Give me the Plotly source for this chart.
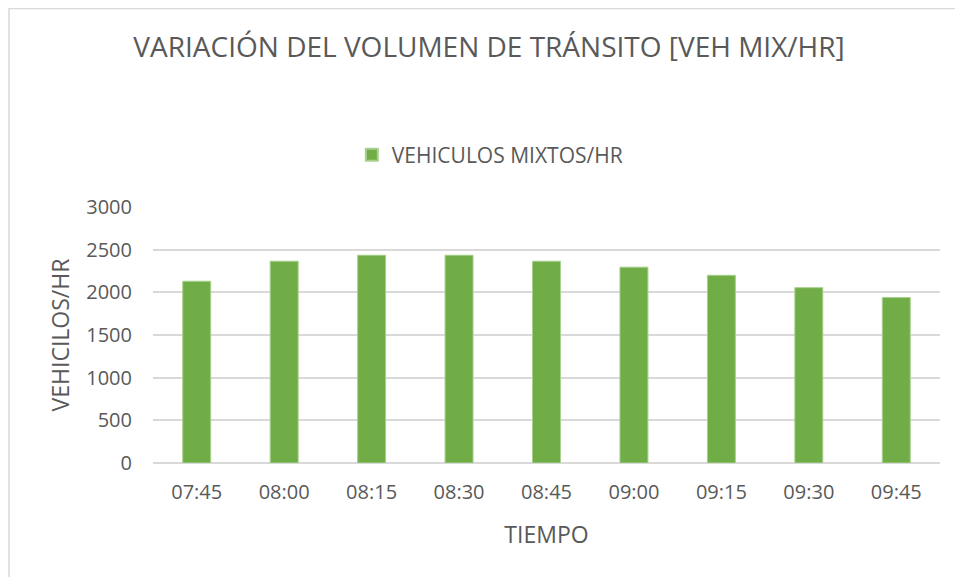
import plotly.graph_objects as go

# datos
horas = ["07:45", "08:00", "08:15", "08:30", "08:45", "09:00", "09:15", "09:30", "09:45"]
vehiculos = [2130, 2365, 2435, 2435, 2365, 2295, 2200, 2055, 1940]
nombre_serie = "VEHICULOS MIXTOS/HR"

gris = "#595959"
fuente = "Open Sans"

fig = go.Figure()

fig.add_trace(go.Bar(
    x=horas, y=vehiculos, name=nombre_serie,
    marker=dict(color="#70AD47", line=dict(color="#A9D18E", width=1)),
    showlegend=True,
))

# el body de la pagina tiene 8px de margen, se compensa en los margenes
fig.update_layout(
    width=963, height=577,
    margin=dict(l=145, r=31, t=199, b=122, autoexpand=False),
    paper_bgcolor="white", plot_bgcolor="white",
    font=dict(family=fuente, color=gris, size=20),
    title=dict(text="VARIACIÓN DEL VOLUMEN DE TRÁNSITO [VEH MIX/HR]",
               x=0.4995, xanchor="center", y=0.932, yanchor="middle",
               font=dict(size=28, color=gris, family=fuente)),
    legend=dict(orientation="h", x=0.428, xanchor="center", y=1.203, yanchor="middle",
                font=dict(size=21, color=gris), itemsizing="constant"),
    bargap=0.68,
    xaxis=dict(title=dict(text="TIEMPO", font=dict(size=23, color=gris), standoff=22),
               showgrid=False, showline=False, ticks="", tickfont=dict(size=20),
               ticklabelstandoff=15),
    yaxis=dict(title=dict(text="VEHICILOS/HR", font=dict(size=23, color=gris), standoff=10),
               range=[0, 3000], dtick=500, showgrid=True, gridcolor="#d9d9d9", gridwidth=1.5,
               zeroline=True, zerolinecolor="#d9d9d9", zerolinewidth=1.5,
               showline=False, ticks="", tickfont=dict(size=20), ticklabelstandoff=20),
    shapes=[dict(type="rect", xref="paper", yref="paper",
                 x0=-0.183, x1=1.1, y0=-0.7, y1=1.775,
                 line=dict(color="#d9d9d9", width=1.5), fillcolor="rgba(0,0,0,0)", layer="below")],
)

fig.write_html("out.html")
